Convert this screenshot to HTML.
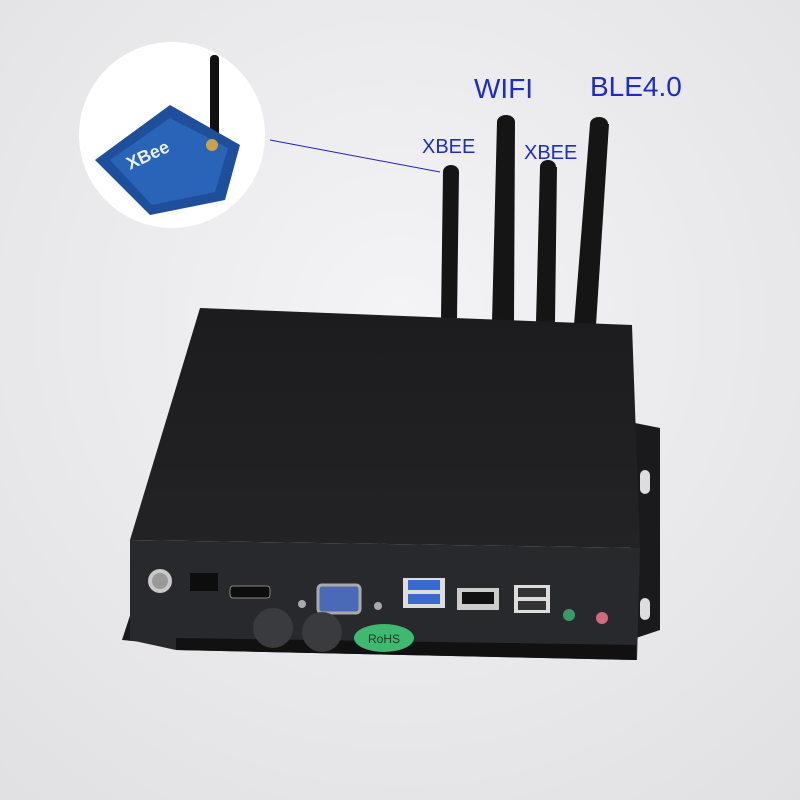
<!DOCTYPE html>
<html><head><style>
html,body{margin:0;padding:0;width:800px;height:800px;overflow:hidden;background:#eeeef0}
svg{display:block}
text{font-family:"Liberation Sans",sans-serif}
</style></head><body>
<svg width="800" height="800" viewBox="0 0 800 800">
<defs>
<radialGradient id="bg" cx="0.5" cy="0.4" r="0.8"><stop offset="0" stop-color="#f4f4f6"/><stop offset="1" stop-color="#e0e0e2"/></radialGradient>
<linearGradient id="top" x1="0" y1="0" x2="0" y2="1"><stop offset="0" stop-color="#1c1c1e"/><stop offset="1" stop-color="#232325"/></linearGradient>
</defs>
<rect width="800" height="800" fill="url(#bg)"/>
<circle cx="172" cy="135" r="93" fill="#ffffff"/>
<rect x="210" y="55" width="9" height="85" rx="4" fill="#111"/>
<polygon points="95,160 170,105 240,145 225,200 150,215" fill="#1f4f9a"/>
<polygon points="110,160 170,118 228,148 215,192 152,205" fill="#2a64b8"/>
<text x="130" y="170" font-size="18" fill="#e8eef8" font-weight="bold" transform="rotate(-25 130 170)">XBee</text>
<circle cx="212" cy="145" r="6" fill="#c9a34a"/>
<line x1="270" y1="140" x2="440" y2="172" stroke="#2020c0" stroke-width="1"/>
<polygon points="443,172 459,172 457,318 441,318" fill="#151515"/>
<ellipse cx="451" cy="172" rx="8" ry="7" fill="#151515"/>
<polygon points="497,122 515,122 514,322 492,322" fill="#151515"/>
<ellipse cx="506" cy="122" rx="9" ry="7" fill="#151515"/>
<polygon points="540,167 557,167 555,322 536,322" fill="#151515"/>
<ellipse cx="548" cy="167" rx="8" ry="7" fill="#151515"/>
<polygon points="590,124 609,124 596,325 574,325" fill="#151515"/>
<ellipse cx="599" cy="124" rx="9" ry="7" fill="#151515"/>
<polygon points="630,422 660,428 660,630 630,640" fill="#1a1a1c"/>
<rect x="640" y="470" width="10" height="24" rx="5" fill="#ddd"/>
<rect x="640" y="598" width="10" height="22" rx="5" fill="#ddd"/>
<polygon points="140,585 170,585 178,645 122,640" fill="#1a1a1c"/>
<polygon points="200,308 632,325 640,548 130,540" fill="url(#top)"/>
<polygon points="130,540 640,548 637,660 176,650 130,640" fill="#28292c"/>
<polygon points="176,638 636,645 636,660 176,650" fill="#111"/>
<circle cx="160" cy="581" r="12" fill="#c8c8c8"/><circle cx="160" cy="581" r="8" fill="#999"/>
<rect x="190" y="573" width="28" height="18" fill="#0d0d0d"/>
<rect x="230" y="586" width="40" height="12" rx="3" fill="#0d0d0d" stroke="#888"/>
<rect x="318" y="585" width="42" height="28" rx="4" fill="#4a6ab8" stroke="#aaa" stroke-width="3"/>
<circle cx="302" cy="604" r="4" fill="#aaa"/><circle cx="378" cy="606" r="4" fill="#aaa"/>
<rect x="403" y="578" width="42" height="30" fill="#ddd"/>
<rect x="408" y="580" width="32" height="10" fill="#3a6ad0"/><rect x="408" y="594" width="32" height="10" fill="#3a6ad0"/>
<rect x="457" y="588" width="42" height="22" fill="#ccc"/><rect x="462" y="592" width="32" height="12" fill="#111"/>
<rect x="514" y="585" width="36" height="28" fill="#ddd"/>
<rect x="518" y="588" width="28" height="9" fill="#333"/><rect x="518" y="601" width="28" height="9" fill="#333"/>
<circle cx="569" cy="615" r="6" fill="#3a9a6a"/><circle cx="602" cy="618" r="6" fill="#d06a80"/>
<circle cx="273" cy="628" r="20" fill="#3a3b3e"/><circle cx="322" cy="632" r="20" fill="#3a3b3e"/>
<ellipse cx="384" cy="638" rx="30" ry="14" fill="#3fb870"/>
<text x="384" y="643" font-size="12" fill="#1a3a22" text-anchor="middle">RoHS</text>
<text x="474" y="98" font-size="28" fill="#1e2bc8">WIFI</text>
<text x="590" y="96" font-size="28" fill="#1e2bc8">BLE4.0</text>
<text x="422" y="153" font-size="20" fill="#1e2bc8">XBEE</text>
<text x="524" y="159" font-size="20" fill="#1e2bc8">XBEE</text>
</svg>
</body></html>
